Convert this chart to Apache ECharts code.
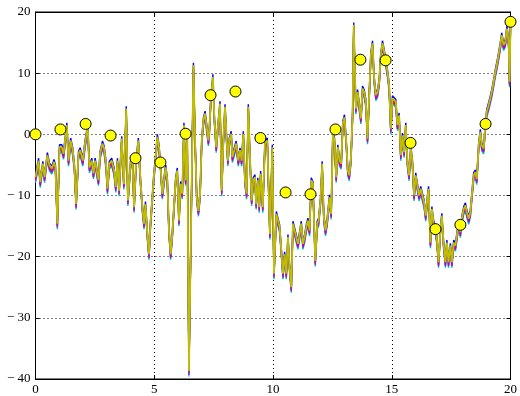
<!DOCTYPE html>
<html>
<head>
<meta charset="utf-8">
<script src="https://cdn.jsdelivr.net/npm/echarts@6/dist/echarts.min.js"></script>
<style>
  html, body { margin: 0; padding: 0; background: #fff; }
  #chart { width: 520px; height: 396px; }
</style>
</head>
<body>
<div id="chart"></div>
<script>
// curve (x, y)
const curveX = [0.00,0.13,0.20,0.31,0.38,0.50,0.59,0.69,0.78,0.84,0.92,1.01,1.11,1.18,1.32,1.39,1.48,1.57,1.64,1.71,
  1.81,1.88,1.99,2.09,2.20,2.27,2.37,2.44,2.51,2.58,2.65,2.72,2.82,2.89,2.97,3.03,3.11,3.21,3.31,3.38,
  3.45,3.52,3.63,3.72,3.82,3.89,4.00,4.08,4.15,4.24,4.33,4.42,4.50,4.57,4.63,4.71,4.78,4.84,4.92,4.99,
  5.06,5.13,5.20,5.27,5.34,5.41,5.48,5.55,5.62,5.69,5.76,5.83,5.90,5.97,6.04,6.11,6.18,6.25,6.32,6.39,
  6.46,6.65,6.72,6.79,6.86,6.93,7.00,7.07,7.14,7.21,7.28,7.32,7.38,7.47,7.53,7.61,7.68,7.77,7.84,7.91,
  7.98,8.05,8.10,8.16,8.24,8.29,8.37,8.45,8.54,8.61,8.68,8.75,8.82,8.89,8.96,9.03,9.10,9.17,9.24,9.29,
  9.36,9.42,9.48,9.57,9.66,9.76,9.87,9.97,10.04,10.14,10.21,10.28,10.35,10.42,10.49,10.56,10.63,10.70,10.77,10.84,
  10.91,10.98,11.05,11.12,11.19,11.26,11.33,11.40,11.47,11.54,11.61,11.68,11.78,11.86,11.92,12.00,12.07,12.14,12.21,12.28,
  12.38,12.45,12.52,12.59,12.66,12.73,12.80,12.87,12.94,13.01,13.08,13.15,13.21,13.28,13.35,13.40,13.49,13.56,13.63,13.70,
  13.77,13.84,13.91,13.98,14.05,14.12,14.19,14.26,14.33,14.40,14.47,14.54,14.61,14.68,14.75,14.82,14.89,14.96,15.03,15.10,
  15.17,15.24,15.31,15.38,15.45,15.52,15.59,15.66,15.73,15.80,15.87,15.94,16.01,16.08,16.15,16.22,16.29,16.36,16.43,16.50,
  16.55,16.63,16.69,16.76,16.84,16.90,16.97,17.05,17.11,17.18,17.26,17.32,17.39,17.47,17.53,17.61,17.68,17.74,17.82,17.89,
  17.95,18.03,18.10,18.16,18.24,18.31,18.37,18.45,18.52,18.58,18.66,18.73,18.79,18.87,18.94,19.00,19.08,19.15,19.21,19.29,
  19.36,19.42,19.50,19.57,19.63,19.71,19.78,19.85,19.92,19.96,20.00];
const curveY = [-7.0,-4.3,-7.8,-4.8,-7.0,-3.4,-5.1,-5.6,-4.5,-5.4,-14.6,-2.1,-2.1,-3.2,1.5,-4.3,-1.0,-2.6,-5.4,-11.4,
  -3.2,-2.6,-4.3,-1.3,1.2,-5.4,-4.3,-6.4,-4.3,-4.0,-7.5,-3.2,-1.5,-2.3,-4.8,-8.9,-4.8,-4.3,-5.9,-8.6,
  -4.3,-9.2,-0.7,-8.1,4.2,-10.8,-4.8,-3.7,-11.9,-4.3,-1.0,-7.5,-11.9,-14.6,-11.4,-16.3,-19.6,-14.6,-10.3,-6.4,
  -3.7,-0.4,-2.1,-5.4,-9.7,-7.5,-5.4,-7.5,-15.7,-19.6,-16.3,-11.9,-7.5,-5.9,-14.1,-8.1,-9.7,1.5,-7.5,-0.4,
  -38.7,11.3,-1.0,-10.3,-12.5,-9.7,-1.0,2.3,3.4,1.2,-1.0,0.7,5.6,9.4,2.8,-2.1,1.2,5.0,-9.2,-1.0,
  4.5,-1.0,-4.3,-1.0,0.1,-3.7,-2.6,-1.5,-4.3,-2.6,-4.3,0.1,-7.5,-9.7,4.5,-3.7,-10.8,-7.5,-7.0,-11.4,
  -7.5,-11.9,-6.4,-11.9,-1.5,-1.0,-16.3,-2.1,-22.8,-13.0,-14.1,-15.2,-15.2,-22.8,-19.6,-22.8,-16.8,-21.8,-25.0,-14.6,
  -14.4,-16.8,-17.9,-16.3,-14.6,-17.9,-16.8,-15.2,-14.1,-15.7,-7.5,-8.1,-20.7,-14.6,-14.1,-10.8,-4.8,-13.5,-15.7,-14.1,
  -10.3,-13.0,0.1,-1.0,-7.0,-2.1,-4.3,-4.8,1.8,2.8,-1.0,-5.9,-6.7,-4.0,3.1,17.9,4.2,6.9,4.8,2.6,
  7.5,6.9,5.3,-0.7,6.4,13.0,14.9,9.1,6.4,6.9,8.6,13.0,14.9,13.5,11.9,10.2,8.0,0.9,5.9,5.9,
  5.3,1.5,3.1,-3.4,-0.2,-2.9,1.5,-4.5,-6.7,-2.3,-4.5,-10.0,-6.7,-8.4,-10.0,-8.9,-10.0,-11.1,-13.3,-10.5,
  -8.9,-17.7,-12.2,-14.4,-15.5,-17.1,-20.9,-15.5,-13.3,-17.7,-20.9,-17.7,-20.9,-18.2,-20.9,-17.7,-18.2,-16.6,-14.4,-16.0,
  -13.8,-12.2,-11.6,-12.7,-13.8,-12.7,-10.0,-6.7,-6.2,-7.3,-1.8,0.4,-1.8,-2.3,1.5,3.7,4.8,5.9,6.9,8.6,
  10.2,11.3,13.0,14.6,16.2,14.6,15.1,17.3,15.1,8.6,17.9];

// the bundle of nearly identical curves, small vertical shifts
const lineColors = ['#0000ff', '#008000', '#ff0000', '#00bfbf', '#bf00bf', '#bfbf00'];
const lineShifts = [0.4, -0.2, -0.4, -0.9, -0.6, 0];
const lineWidths = [1.4, 1.4, 1.4, 1.4, 1.4, 1.8];

// yellow circle markers
const markX = [0, 1.05, 2.11, 3.16, 4.21, 5.26, 6.32, 7.37, 8.42, 9.47, 10.53, 11.58, 12.63, 13.68, 14.74, 15.79, 16.84, 17.89, 18.95, 20];
const markY = [0, 0.8, 1.7, -0.2, -3.9, -4.6, 0.1, 6.4, 7.0, -0.6, -9.5, -9.8, 0.8, 12.2, 12.1, -1.4, -15.5, -14.8, 1.7, 18.4];

const xTicks = [0, 5, 10, 15, 20];
const yTicks = [-40, -30, -20, -10, 0, 10, 20];

const font = 'Liberation Serif';
const fmtNum = v => (v < 0 ? '\u2212 ' + Math.abs(v) : String(v));

const chart = echarts.init(document.getElementById('chart'));

const lineSeries = lineColors.map((c, k) => ({
  type: 'line',
  data: curveX.map((x, i) => [x, curveY[i] + lineShifts[k]]),
  showSymbol: false,
  lineStyle: { color: c, width: lineWidths[k] },
  z: 2 + k,
  silent: true
}));

chart.setOption({
  animation: false,
  backgroundColor: '#fff',
  grid: { left: 35.5, right: 9, top: 12, bottom: 15, show: true, borderColor: '#000', borderWidth: 1 },
  xAxis: [{
    type: 'value', min: xTicks[0], max: xTicks[xTicks.length - 1], interval: 5,
    axisLine: { onZero: false, lineStyle: { color: '#000' } },
    axisTick: { inside: true, length: 4, lineStyle: { color: '#000' } },
    axisLabel: { color: '#000', fontFamily: font, fontSize: 13, margin: 4 },
    splitLine: { show: true, lineStyle: { color: '#000', type: [1, 3] } }
  }, {
    type: 'value', position: 'top', min: 0, max: 20, interval: 5,
    axisLine: { onZero: false, lineStyle: { color: '#000' } },
    axisTick: { inside: true, length: 4, lineStyle: { color: '#000' } },
    axisLabel: { show: false }, splitLine: { show: false }
  }],
  yAxis: [{
    type: 'value', min: yTicks[0], max: yTicks[yTicks.length - 1], interval: 10,
    axisLine: { onZero: false, lineStyle: { color: '#000' } },
    axisTick: { inside: true, length: 4, lineStyle: { color: '#000' } },
    axisLabel: { color: '#000', fontFamily: font, fontSize: 13, margin: 5, formatter: fmtNum },
    splitLine: { show: true, lineStyle: { color: '#000', type: [1, 3] } }
  }, {
    type: 'value', position: 'right', min: -40, max: 20, interval: 10,
    axisLine: { onZero: false, lineStyle: { color: '#000' } },
    axisTick: { inside: true, length: 4, lineStyle: { color: '#000' } },
    axisLabel: { show: false }, splitLine: { show: false }
  }],
  series: lineSeries.concat([{
    type: 'scatter',
    data: markX.map((x, i) => [x, markY[i]]),
    symbol: 'circle',
    symbolSize: 11,
    itemStyle: { color: '#ffff00', borderColor: '#000', borderWidth: 1, opacity: 1 },
    z: 20,
    silent: true
  }])
});
</script>
</body>
</html>
